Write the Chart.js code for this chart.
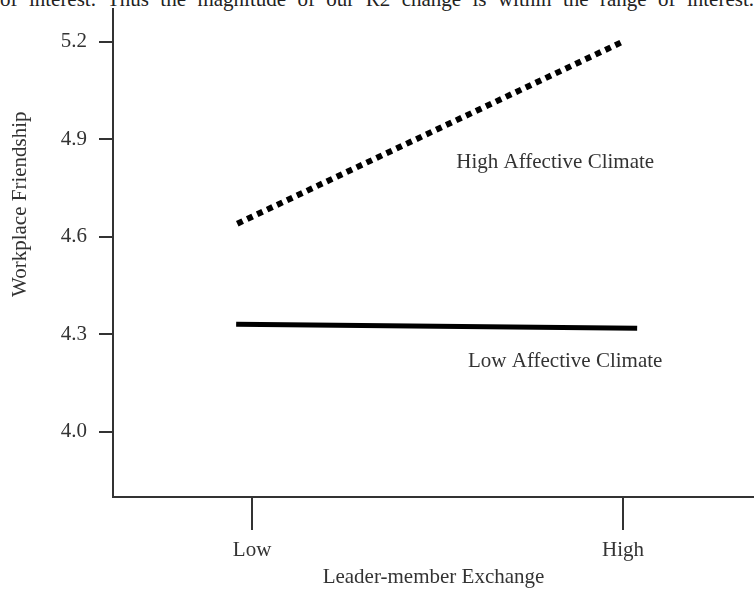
<!DOCTYPE html>
<html>
<head>
<meta charset="utf-8">
<script src="https://cdn.jsdelivr.net/npm/chart.js@4"></script>
<style>
  html, body { margin: 0; padding: 0; background: #fff; }
  #wrap { position: relative; width: 754px; height: 591px; overflow: hidden; }
  #topText {
    position: absolute; left: 0; top: -13px; width: 754px;
    text-align: justify; text-align-last: justify; white-space: nowrap;
    font-family: "Liberation Serif", serif; font-size: 21px; color: #222;
  }
  canvas { position: absolute; left: 0; top: 0; }
</style>
</head>
<body>
<div id="wrap">
  <div id="topText">of interest. Thus the magnitude of our R2 change is within the range of interest.</div>
  <canvas id="chart" width="754" height="591"></canvas>
</div>
<script>
// x positions: 0 = Low, 1 = High (Leader-member Exchange)
const xTickValues = [0, 1];
const xTickLabels = ["Low", "High"];
const yTickValues = [4.0, 4.3, 4.6, 4.9, 5.2];

// High Affective Climate (dotted)
const highX = [-0.04, 1.0];
const highY = [4.64, 5.2];
// Low Affective Climate (solid)
const lowX = [-0.043, 1.038];
const lowY = [4.331, 4.319];

const seriesLabels = ["High Affective Climate", "Low Affective Climate"];
const yTitle = "Workplace Friendship";

const serif = "'Liberation Serif', 'Times New Roman', serif";
const ink = "#333";
const fontSize = 21;

// line labels + rotated y title (placed off-centre like the original)
const extraText = {
  id: "extraText",
  afterDatasetsDraw(chart) {
    const { ctx, scales } = chart;
    const spots = [
      { text: seriesLabels[0], x: 0.817, y: 4.829 },
      { text: seriesLabels[1], x: 0.844, y: 4.218 }
    ];
    ctx.save();
    ctx.font = fontSize + "px " + serif;
    ctx.fillStyle = ink;
    ctx.textAlign = "center";
    ctx.textBaseline = "middle";
    spots.forEach(s => {
      ctx.fillText(s.text, scales.x.getPixelForValue(s.x), scales.y.getPixelForValue(s.y));
    });
    ctx.translate(20, scales.y.getPixelForValue(4.7));
    ctx.rotate(-Math.PI / 2);
    ctx.fillText(yTitle, 0, 0);
    ctx.restore();
  }
};

new Chart(document.getElementById("chart"), {
  type: "scatter",
  data: {
    datasets: [
      {
        label: seriesLabels[0],
        data: highX.map((x, i) => ({ x, y: highY[i] })),
        showLine: true,
        borderColor: "#000",
        borderWidth: 6,
        borderDash: [6, 5],
        borderCapStyle: "butt",
        pointRadius: 0
      },
      {
        label: seriesLabels[1],
        data: lowX.map((x, i) => ({ x, y: lowY[i] })),
        showLine: true,
        borderColor: "#000",
        borderWidth: 5,
        pointRadius: 0
      }
    ]
  },
  options: {
    responsive: false,
    animation: false,
    layout: { padding: { top: 9, right: 0, left: 0, bottom: 0 } },
    plugins: { legend: { display: false }, tooltip: { enabled: false } },
    scales: {
      x: {
        type: "linear",
        min: -0.375,
        max: 1.353,
        afterBuildTicks: s => { s.ticks = xTickValues.map(v => ({ value: v })); },
        afterFit: s => { s.height = 94; s.paddingLeft = 0; s.paddingRight = 0; },
        border: { color: ink, width: 2 },
        grid: { drawOnChartArea: false, drawTicks: true, tickLength: 33, color: ink, lineWidth: 2 },
        ticks: {
          padding: 8,
          color: ink,
          font: { family: serif, size: fontSize },
          callback: v => xTickLabels[xTickValues.indexOf(v)]
        },
        title: {
          display: true,
          text: "Leader-member Exchange",
          color: ink,
          font: { family: serif, size: fontSize },
          padding: { top: 0, bottom: 1 }
        }
      },
      y: {
        min: 3.8,
        max: 5.3,
        afterBuildTicks: s => { s.ticks = yTickValues.map(v => ({ value: v })); },
        afterFit: s => { s.width = 113; s.paddingTop = 0; s.paddingBottom = 0; },
        border: { color: ink, width: 2 },
        grid: { drawOnChartArea: false, drawTicks: true, tickLength: 14, color: ink, lineWidth: 2 },
        ticks: {
          padding: 12,
          color: ink,
          font: { family: serif, size: fontSize },
          callback: v => v.toFixed(1)
        }
      }
    }
  },
  plugins: [extraText]
});
</script>
</body>
</html>
